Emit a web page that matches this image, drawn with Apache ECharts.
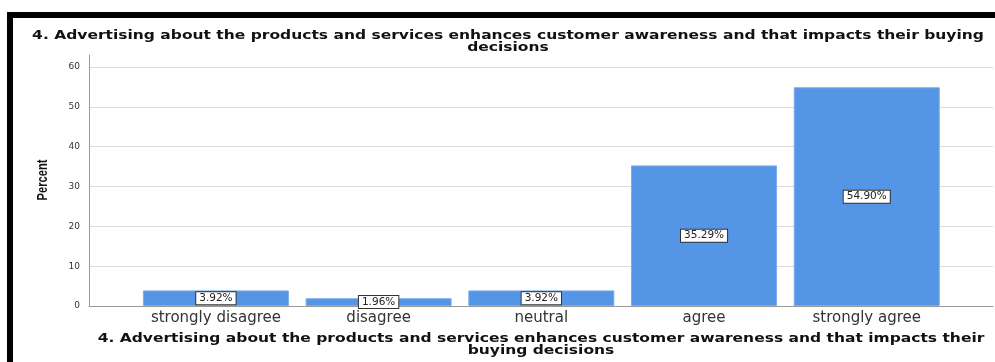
<!DOCTYPE html>
<html>
<head>
<meta charset="utf-8">
<script src="https://cdn.jsdelivr.net/npm/echarts@6/dist/echarts.min.js"></script>
<style>
  html, body { margin: 0; padding: 0; background: #fff; }
  #chart { width: 995px; height: 362px; }
</style>
</head>
<body>
<div id="chart"></div>
<script>
// Response categories and percentages of respondents
const categories = ['strongly disagree', 'disagree', 'neutral', 'agree', 'strongly agree'];
const percentValues = [3.92, 1.96, 3.92, 35.29, 54.90];
const yTicks = { min: 0, max: 63, interval: 10 };
const titleText = '4. Advertising about the products and services enhances customer awareness and that impacts their buying\ndecisions';
const xAxisTitle = '4. Advertising about the products and services enhances customer awareness and that impacts their\nbuying decisions';
const yAxisTitle = 'Percent';

const chart = echarts.init(document.getElementById('chart'), null, { renderer: 'canvas' });

const barData = percentValues.map((v, i) => [i, v]);

// Wide, letter-spread bold heading text
function headingText(text, x, y) {
  return {
    type: 'text',
    x: x,
    y: y,
    scaleX: 1.24,
    silent: true,
    style: {
      text: text,
      fontFamily: 'DejaVu Sans',
      fontWeight: 'bold',
      fontSize: 12.5,
      lineHeight: 11.5,
      fill: '#111',
      align: 'center',
      verticalAlign: 'top'
    }
  };
}

chart.setOption({
  animation: false,
  backgroundColor: '#ffffff',
  graphic: [
    { type: 'rect', shape: { x: 7, y: 12, width: 988, height: 6 }, style: { fill: '#000' }, silent: true },
    { type: 'rect', shape: { x: 7, y: 12, width: 6, height: 350 }, style: { fill: '#000' }, silent: true },
    headingText(titleText, 508, 30),
    headingText(xAxisTitle, 541, 333),
    // Condensed vertical axis title
    {
      type: 'text',
      x: 43,
      y: 180,
      rotation: Math.PI / 2,
      scaleX: 0.8,
      silent: true,
      style: {
        text: yAxisTitle,
        fontFamily: 'Liberation Sans',
        fontWeight: 'bold',
        fontSize: 14,
        fill: '#111',
        align: 'center',
        verticalAlign: 'middle'
      }
    }
  ],
  grid: { left: 89, right: 2, top: 55, bottom: 56 },
  xAxis: {
    type: 'value',
    min: -0.78,
    max: 4.776,
    axisLine: { show: true, onZero: false, lineStyle: { color: '#999', width: 1 } },
    axisTick: { show: false },
    splitLine: { show: false },
    axisLabel: {
      customValues: [0, 1, 2, 3, 4],
      formatter: v => categories[Math.round(v)],
      fontFamily: 'DejaVu Sans',
      fontSize: 15,
      color: '#333',
      margin: 5
    }
  },
  yAxis: {
    type: 'value',
    min: yTicks.min,
    max: yTicks.max,
    interval: yTicks.interval,
    axisLine: { show: true, onZero: false, lineStyle: { color: '#999', width: 1 } },
    axisTick: { show: false },
    splitLine: { show: true, showMaxLine: false, lineStyle: { color: '#dcdcdc', width: 1 } },
    axisLabel: {
      showMaxLabel: false,
      fontFamily: 'DejaVu Sans',
      fontSize: 9,
      color: '#333',
      margin: 9
    }
  },
  series: [{
    type: 'bar',
    data: barData,
    barWidth: 146,
    itemStyle: { color: '#5595e5', borderColor: '#7aaded', borderWidth: 1 },
    label: {
      show: true,
      position: 'inside',
      formatter: p => p.value[1].toFixed(2) + '%',
      fontFamily: 'DejaVu Sans',
      fontSize: 10.5,
      color: '#222',
      backgroundColor: '#fff',
      borderColor: '#333',
      borderWidth: 1,
      padding: [1, 3, 0, 3]
    }
  }]
});
</script>
</body>
</html>
